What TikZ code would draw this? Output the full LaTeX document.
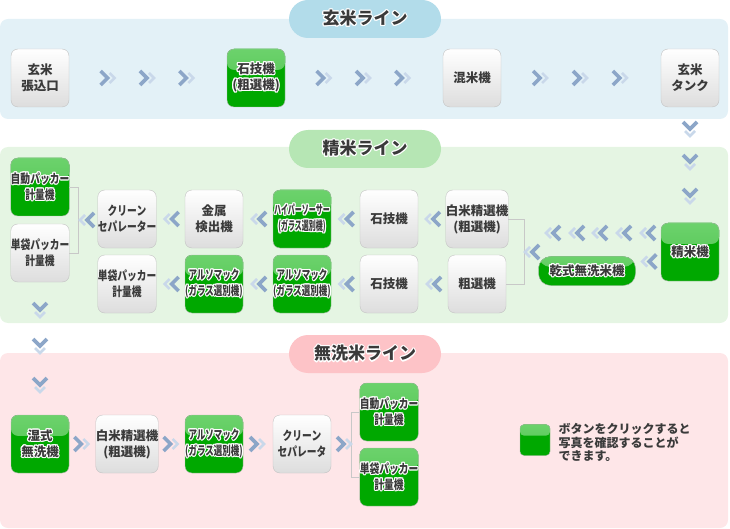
\documentclass[tikz,border=0pt]{standalone}
\usepackage{fontspec}
\setmainfont{Noto Sans CJK JP}
\newfontfamily\jpmid[FakeStretch=0.78]{Noto Sans CJK JP}
\newfontfamily\jpnar[FakeStretch=0.68]{Noto Sans CJK JP}
\newfontfamily\jpslim[FakeStretch=0.56]{Noto Sans CJK JP}
\usepackage{contour}
\contourlength{1.1pt}
\contournumber{12}
\usetikzlibrary{calc}

\definecolor{bandblue}{HTML}{E3F1F7}
\definecolor{pillblue}{HTML}{B2DCEA}
\definecolor{bandgreen}{HTML}{E5F5E3}
\definecolor{pillgreen}{HTML}{B6E6B4}
\definecolor{bandpink}{HTML}{FEE6E8}
\definecolor{pillpink}{HTML}{FDC3C7}
\definecolor{boxline}{HTML}{C2C2C2}
\definecolor{boxgray}{HTML}{DDDDDD}
\definecolor{gline}{HTML}{B0B8B0}
\definecolor{gdark}{HTML}{00A800}
\definecolor{glight}{HTML}{6CD26C}
\definecolor{gmid}{HTML}{4CC24C}
\definecolor{txt}{HTML}{3A3A3A}
\definecolor{brk}{HTML}{C8C8C8}
\definecolor{chvdark}{HTML}{8CA6C8}
\definecolor{chvlight}{HTML}{C9D8EA}

\newcommand{\hl}[1]{\contour{white}{#1}}

\begin{document}
\begin{tikzpicture}[x=1pt,y=-1pt,
  wbox/.style={draw=boxline,rounded corners=7,minimum width=58,minimum height=58,inner sep=0,align=center,text=txt,
    font=\fontsize{12.5}{16}\selectfont\bfseries,top color=white,bottom color=boxgray},
  gloss/.style={path picture={\fill[top color=glight,bottom color=gmid] (path picture bounding box.north west)
    rectangle ($(path picture bounding box.north east)!0.36!(path picture bounding box.south east)$);}},
  gbox/.style={draw=gline,rounded corners=7,minimum width=58,minimum height=58,inner sep=0,align=center,text=txt,
    font=\fontsize{12.5}{16}\selectfont\bfseries,fill=gdark,gloss},
  condfont/.style={font=\jpmid\fontsize{12.5}{16}\selectfont\bfseries},
  narfont/.style={font=\jpnar\fontsize{12.5}{16}\selectfont\bfseries},
  slimfont/.style={font=\jpslim\fontsize{12.5}{16}\selectfont\bfseries},
  pill/.style={rounded corners=19,minimum width=152,minimum height=38,inner sep=0,text=txt,
    font=\fontsize{17}{18}\selectfont\bfseries},
  bracket/.style={draw=brk,line width=0.8},
  chv/.pic={\draw[chvlight,line width=2.6] (1,-5)--(6,0)--(1,5);
    \draw[chvdark,line width=3.6] (-8,-7)--(-1,0)--(-8,7);}
]
\useasboundingbox (0,0) rectangle (730,529);

\fill[bandblue,rounded corners=8] (0,19) rectangle (728,119);
\fill[bandgreen,rounded corners=8] (0,147) rectangle (728,323);
\fill[bandpink,rounded corners=8] (0,353) rectangle (728,528);

\node[pill,fill=pillblue] (tgen) at (365,19) {\hl{玄米ライン}};
\node[pill,fill=pillgreen] (tsei) at (365,149) {\hl{精米ライン}};
\node[pill,fill=pillpink] (tmus) at (365,354) {\hl{無洗米ライン}};

\node[wbox] (gin) at (40,78) {玄米\\張込口};
\node[gbox] (ishi1) at (256,78) {\hl{石技機}\\\hl{(粗選機)}};
\node[wbox] (konmai) at (472,78) {混米機};
\node[wbox] (tank) at (690,78) {玄米\\タンク};

\foreach \a/\b in {gin/ishi1,ishi1/konmai,konmai/tank}
  \foreach \t in {0.25,0.5,0.75}
    \pic at ($(\a.east)!\t!(\b.west)$) {chv};
\foreach \y in {130,163,197}
  \pic[rotate=-90] at (690,\y) {chv};

\node[gbox] (seimai) at (690,252) {\hl{精米機}};
\node[gbox,minimum width=97,minimum height=29,rounded corners=12] (kanshiki) at (587,271) {\hl{乾式無洗米機}};
\node[wbox] (hakumai) at (477,219) {白米精選機\\(粗選機)};
\node[wbox] (sosen) at (477,284) {粗選機};
\node[wbox] (ishi2) at (389,219) {石技機};
\node[wbox] (ishi3) at (389,284) {石技機};
\node[gbox,slimfont] (hyper) at (302,219) {\hl{ハイパーソーサー}\\\hl{(ガラス選別機)}};
\node[gbox,narfont] (aru1) at (302,284) {\hl{アルソマック}\\\hl{(ガラス選別機)}};
\node[wbox] (kinzoku) at (214,219) {金属\\検出機};
\node[gbox,narfont] (aru2) at (214,284) {\hl{アルソマック}\\\hl{(ガラス選別機)}};
\node[wbox,condfont] (clean1) at (127,219) {クリーン\\セパレーター};
\node[wbox,condfont] (tantai1) at (127,284) {単袋パッカー\\計量機};
\node[gbox,condfont] (jido1) at (40,187) {\hl{自動パッカー}\\\hl{計量機}};
\node[wbox,condfont] (tantai2) at (40,253) {単袋パッカー\\計量機};

\draw[bracket] (jido1.east) -- ++(9,0) |- (tantai2.east);
\draw[bracket] (hakumai.east) -- ++(16,0) |- (sosen.east);

\foreach \x in {552,576,599,623,647}
  \pic[rotate=180] at (\x,233) {chv};
\pic[rotate=180] at ($(kanshiki.east)!0.5!(seimai.west)$) {chv};
\pic[rotate=180] at (531,252) {chv};
\foreach \a/\b in {ishi2/hakumai,hyper/ishi2,kinzoku/hyper,clean1/kinzoku,
                   ishi3/sosen,aru1/ishi3,aru2/aru1,tantai1/aru2}
  \pic[rotate=180] at ($(\a.east)!0.5!(\b.west)$) {chv};
\pic[rotate=180] at (86,220) {chv};
\foreach \y in {311,347,386}
  \pic[rotate=-90] at (40,\y) {chv};

\node[gbox] (shisshiki) at (40,444) {\hl{湿式}\\\hl{無洗機}};
\node[wbox] (hakumai2) at (127,444) {白米精選機\\(粗選機)};
\node[gbox,narfont] (aru3) at (214,444) {\hl{アルソマック}\\\hl{(ガラス選別機)}};
\node[wbox,condfont] (clean2) at (302,444) {クリーン\\セパレータ};
\node[gbox,condfont] (jido2) at (389,412) {\hl{自動パッカー}\\\hl{計量機}};
\node[gbox,condfont] (tantai3) at (389,477) {\hl{単袋パッカー}\\\hl{計量機}};

\draw[bracket] (jido2.west) -- ++(-8,0) |- (tantai3.west);
\foreach \a/\b in {shisshiki/hakumai2,hakumai2/aru3,aru3/clean2}
  \pic at ($(\a.east)!0.5!(\b.west)$) {chv};
\pic at (345,444) {chv};

\node[gbox,minimum width=30,minimum height=31,rounded corners=4] (key) at (535,440) {};
\node[anchor=north west,align=left,text=txt,font=\fontsize{12}{13.3}\selectfont\bfseries] (keytxt)
  at (555,420) {ボタンをクリックすると\\写真を確認することが\\できます。};
\end{tikzpicture}
\end{document}
